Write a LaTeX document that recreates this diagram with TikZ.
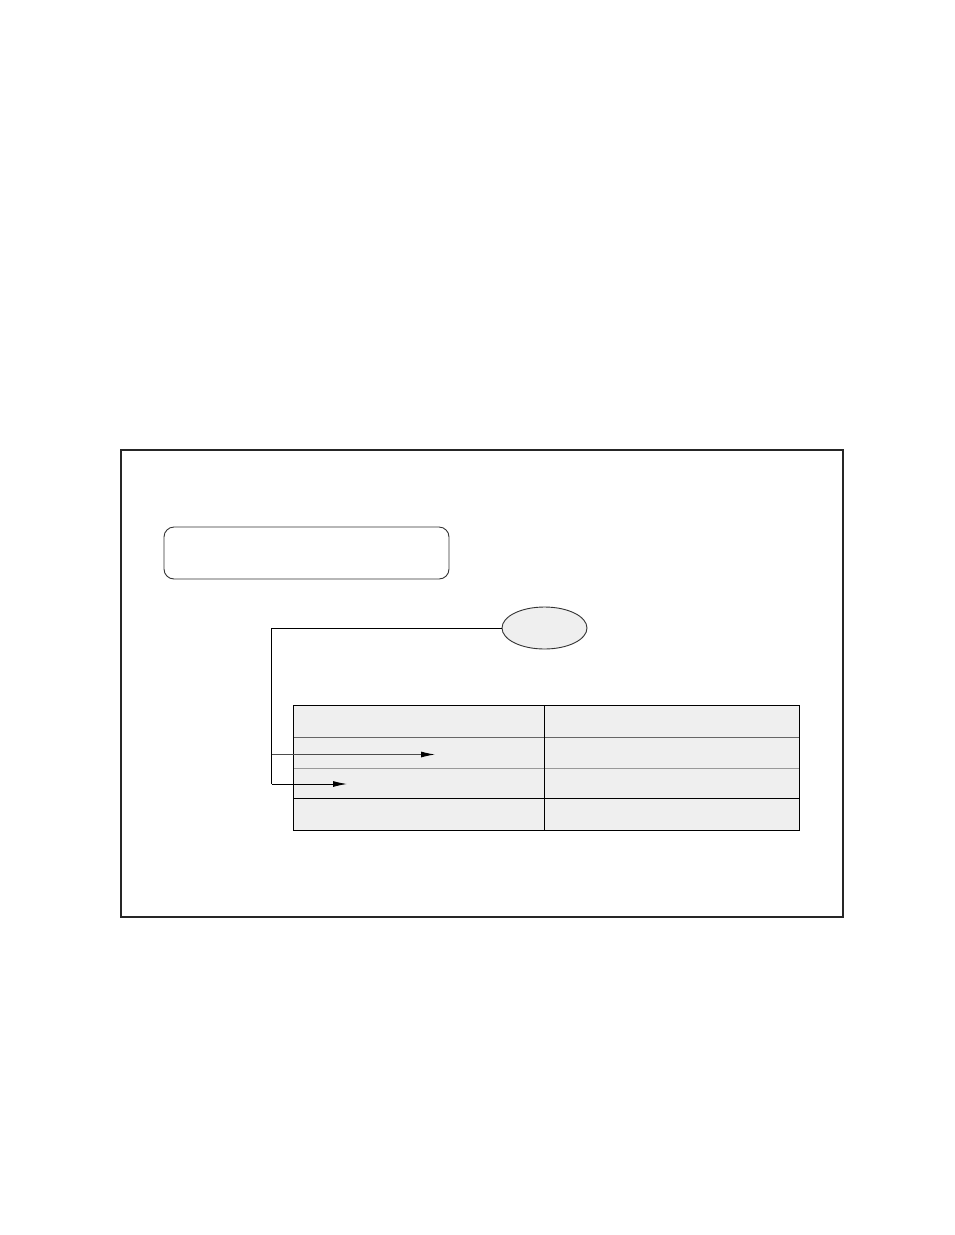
\documentclass[tikz,border=0pt]{standalone}
\usetikzlibrary{shapes.geometric,arrows.meta}
\definecolor{cellfill}{HTML}{EFEFEF}
\begin{document}
\begin{tikzpicture}[x=1pt,y=-1pt,
  frame/.style={draw=black!85,line width=1.3pt},
  panel/.style={draw=black!80,line width=0.9pt,rounded corners=10pt},
  oval/.style={ellipse,draw=black!80,fill=cellfill,line width=0.9pt,minimum width=85pt,minimum height=42pt,inner sep=0pt},
  cell/.style={rectangle,fill=cellfill,draw=none,inner sep=0pt,anchor=north west},
  conn/.style={draw=black,line width=0.9pt},
  tip/.style={-{Latex[length=14pt,width=6pt,color=black]}}
]
\useasboundingbox (0,0) rectangle (954,1235);
\fill[white] (0,0) rectangle (954,1235);
% outer frame
\draw[frame] (121,450) rectangle (843,917);
% rounded panel
\draw[panel] (164,527) rectangle (449,579);
% ellipse
\node[oval] (ov) at (544.5,628) {};
% table cells
\node[cell,minimum width=506pt,minimum height=125pt] (tbl) at (293,705) {};
\draw[draw=black!60,line width=1pt] (293,737) -- (799,737);
\draw[draw=black!40,line width=1.5pt] (293,768.5) -- (799,768.5);
\draw[draw=black,line width=1pt] (293,798.5) -- (799,798.5);
\draw[draw=black,line width=1pt] (544,705) -- (544,830);
\draw[draw=black,line width=1pt] (tbl.north west) rectangle (tbl.south east);
% connectors
\coordinate (c1) at (271.5,628);
\coordinate (c2) at (271.5,784);
\coordinate (c3) at (271.5,754.5);
\coordinate (t1) at (435,754.5);
\coordinate (t2) at (347,784);
\draw[conn] (ov.west) -- (c1) -- (c2);
\draw[conn,tip] (c2) -- (t2);
\draw[conn,draw=black!70,tip] (c3) -- (t1);
\end{tikzpicture}
\end{document}
